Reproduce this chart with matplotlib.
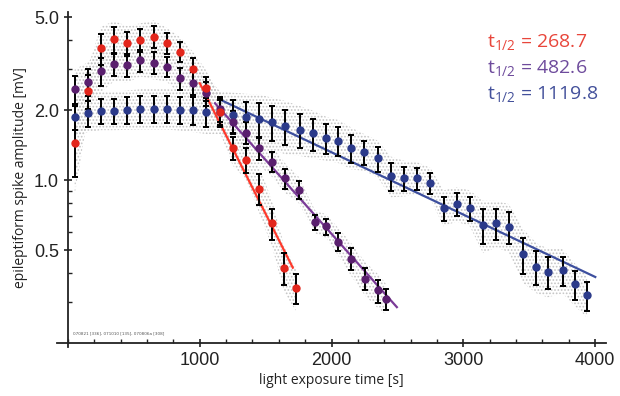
import numpy as np
import matplotlib.pyplot as plt
from matplotlib.ticker import FixedLocator, FixedFormatter, NullFormatter

# binned means (time [s], amplitude [mV], error)
red_t = [50, 150, 250, 350, 450, 550, 650, 750, 850, 950, 1050, 1150, 1250, 1350, 1450, 1550, 1640, 1730]
red_v = [1.45, 2.42, 3.68, 4.03, 3.87, 4.0, 4.14, 3.87, 3.56, 2.99, 2.48, 1.97, 1.38, 1.22, 0.92, 0.655, 0.421, 0.345]
red_e = [0.42, 0.4, 0.55, 0.5, 0.45, 0.45, 0.45, 0.4, 0.35, 0.35, 0.3, 0.25, 0.16, 0.15, 0.14, 0.1, 0.065, 0.05]

purple_t = [50, 150, 250, 350, 450, 550, 650, 750, 850, 950, 1050, 1150, 1250, 1350, 1450, 1550, 1650, 1750,
            1875, 1960, 2050, 2145, 2255, 2350, 2410]
purple_v = [2.46, 2.65, 2.95, 3.15, 3.12, 3.28, 3.20, 3.07, 2.74, 2.62, 2.36, 2.02, 1.78, 1.60, 1.37, 1.2, 1.02, 0.91,
            0.662, 0.634, 0.545, 0.461, 0.378, 0.336, 0.31]
purple_e = [0.33, 0.35, 0.4, 0.35, 0.35, 0.35, 0.35, 0.3, 0.3, 0.3, 0.28, 0.25, 0.2, 0.17, 0.15, 0.12, 0.1, 0.08,
            0.05, 0.05, 0.05, 0.05, 0.042, 0.038, 0.032]

blue_t = [50, 150, 250, 350, 450, 550, 650, 750, 850, 950, 1050, 1150, 1250, 1350, 1450, 1550, 1650,
          1760, 1860, 1960, 2050, 2150, 2250, 2350, 2450, 2550, 2650, 2750,
          2850, 2950, 3050, 3150, 3250, 3345, 3455, 3555, 3640, 3755, 3850, 3940]
blue_v = [1.87, 1.94, 1.99, 1.99, 2.01, 2.03, 2.03, 2.03, 2.01, 2.0, 1.97, 1.97, 1.90, 1.87, 1.84, 1.78, 1.71,
          1.65, 1.59, 1.52, 1.48, 1.38, 1.32, 1.24, 1.04, 1.02, 1.02, 0.97,
          0.76, 0.79, 0.76, 0.64, 0.655, 0.63, 0.48, 0.425, 0.405, 0.41, 0.357, 0.32]
blue_e = [0.22, 0.24, 0.25, 0.25, 0.26, 0.27, 0.27, 0.27, 0.27, 0.28, 0.28, 0.28, 0.3, 0.3, 0.31, 0.3, 0.3,
          0.27, 0.25, 0.22, 0.21, 0.19, 0.16, 0.15, 0.14, 0.12, 0.11, 0.1,
          0.09, 0.09, 0.09, 0.11, 0.1, 0.1, 0.085, 0.07, 0.065, 0.06, 0.05, 0.045]

# exponential fits (end points)
red_fit_t = [1000, 1706]
red_fit_v = [2.61, 0.421]
purple_fit_t = [1116, 2496]
purple_fit_v = [2.14, 0.285]
blue_fit_t = [1154, 4002]
blue_fit_v = [2.22, 0.384]

half_lives = ['268.7', '482.6', '1119.8']
y_ticks = [0.5, 1.0, 2.0, 5.0]
x_ticks = [1000, 2000, 3000, 4000]

plt.rcParams['hatch.color'] = '#c4c4c4'
plt.rcParams['hatch.linewidth'] = 0.8

fig = plt.figure(figsize=(6.2, 3.96), dpi=100)
ax = fig.add_axes([0.0927, 0.134, 0.884, 0.8367])

series = [
    (blue_t, blue_v, blue_e, '#2b3a8a'),
    (purple_t, purple_v, purple_e, '#5a1f6e'),
    (red_t, red_v, red_e, '#e3261c'),
]
# gray cloud of raw sweeps around each series
for t, v, e, c in series:
    t = np.array(t); v = np.array(v); e = np.array(e)
    ax.fill_between(t, v - 1.4 * e, v + 1.6 * e, facecolor='none', edgecolor='#c4c4c4',
                    hatch='.....', linewidth=0, zorder=1)

ax.plot(blue_fit_t, blue_fit_v, color='#3d4f9e', lw=1.6, zorder=2)
ax.plot(purple_fit_t, purple_fit_v, color='#7b3b98', lw=1.6, zorder=2)
ax.plot(red_fit_t, red_fit_v, color='#ff3a2c', lw=1.6, zorder=2)

for t, v, e, c in series:
    ax.errorbar(t, v, yerr=e, fmt='o', color=c, ms=5, mec=c, ecolor='black', elinewidth=1.4,
                capsize=2.5, capthick=1.4, zorder=3)

ax.set_yscale('log')
ax.set_xlim(-80, 4080)
ax.set_ylim(0.2, 5.3)

ax.spines['right'].set_visible(False)
ax.spines['top'].set_visible(False)
ax.spines['left'].set_position(('data', 0))
ax.spines['left'].set_bounds(0.193, 5.3)
for s in ['left', 'bottom']:
    ax.spines[s].set_linewidth(1.3)
    ax.spines[s].set_color('#222222')

ax.yaxis.set_major_locator(FixedLocator(y_ticks))
ax.yaxis.set_major_formatter(FixedFormatter(['%.1f' % y for y in y_ticks]))
ax.yaxis.set_minor_locator(FixedLocator([0.3, 0.4, 0.6, 0.7, 0.8, 0.9, 3.0, 4.0]))
ax.yaxis.set_minor_formatter(NullFormatter())
ax.xaxis.set_major_locator(FixedLocator(x_ticks))
ax.xaxis.set_minor_locator(FixedLocator(np.arange(0, 4001, 200)))

ax.tick_params(axis='both', which='major', direction='inout', length=6, width=1.2,
               labelsize=13, colors='#222222')
ax.tick_params(axis='both', which='minor', direction='in', length=3, width=1.0, colors='#222222')
for lab in ax.get_xticklabels() + ax.get_yticklabels():
    lab.set_family('Liberation Sans')

ax.set_xlabel('light exposure time [s]', fontsize=10, family='Open Sans', color='#222222', labelpad=3)
ax.set_ylabel('epileptiform spike amplitude [mV]', fontsize=10, family='Open Sans', color='#222222',
              labelpad=4)

fit_colors = ['#e8463b', '#6e4b9c', '#44519b']
ypos = [0.894, 0.828, 0.763]
for hl, c, yy in zip(half_lives, fit_colors, ypos):
    fig.text(0.785, yy, r'$\mathregular{t_{1/2}}$ = ' + hl, color=c, fontsize=14, family='Open Sans',
             va='center', ha='left')

ax.text(40, 0.218, '070821 [336], 071010 [135], 070806a [308]', fontsize=3, color='#555555')

fig.savefig('out.png', dpi=100)
